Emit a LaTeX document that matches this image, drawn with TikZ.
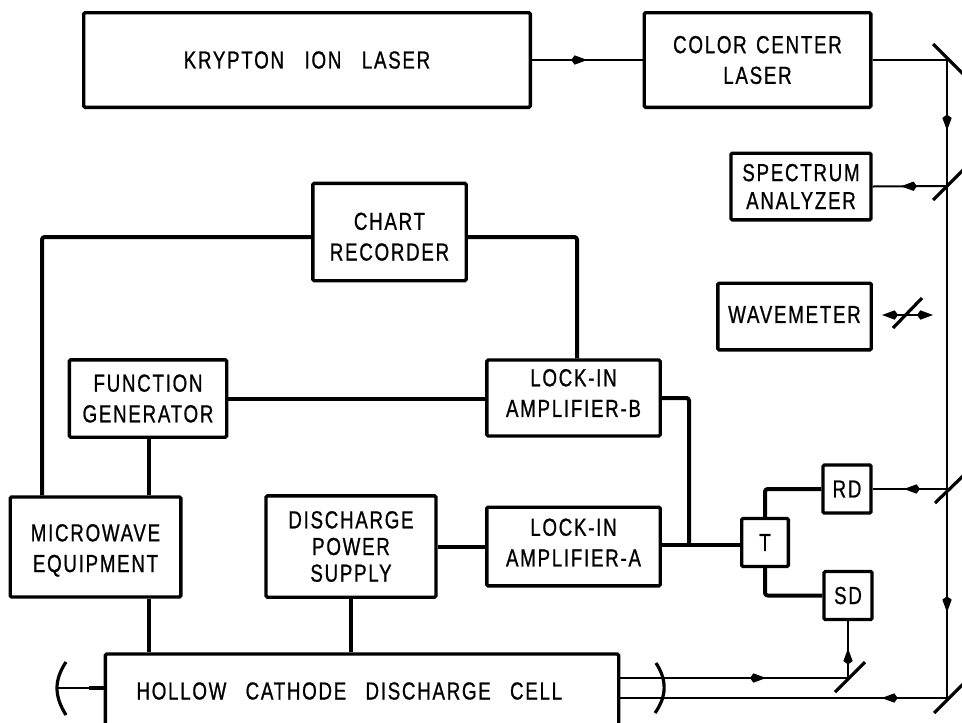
\documentclass[tikz,border=0pt]{standalone}
\usepackage{fontspec}
\setmainfont[LetterSpace=7,FakeStretch=0.76,FakeBold=0.8]{Liberation Sans}
\usetikzlibrary{arrows.meta}
\usetikzlibrary{decorations.markings}
\newcommand{\txtup}[1]{\rule[-#1]{0pt}{#1}}
\newcommand{\txtdown}[1]{\rule{0pt}{#1}}
\begin{document}
\begin{tikzpicture}[
    x=0.75pt, y=-0.75pt,
    box/.style={draw, line width=2.5pt, rounded corners=1pt, inner sep=0pt, align=center, font=\fontsize{18.5}{23}\selectfont},
    wire/.style={line width=3pt, line join=round, rounded corners=2pt},
    beam/.style={line width=1.5pt},
    beamr/.style={beam, postaction={decorate}, decoration={markings, mark=at position #1 with {\arrow{Kite[length=12pt,width=7pt,inset=2.5pt]}}}},
    mirror/.style={line width=2.4pt}
]
\useasboundingbox (0,0) rectangle (962,722);

% ── Lasers ────────────────────────────────────────────
\node[box, minimum width=335pt, minimum height=71pt] (krypton) at (307,60) {KRYPTON\hspace{0.55em} ION\hspace{0.55em} LASER};
\node[box, minimum width=170pt, minimum height=71pt] (color) at (757.5,60) {COLOR\hspace{0.1em} CENTER\\LASER};

% ── Diagnostics ───────────────────────────────────────
\node[box, minimum width=105pt, minimum height=50pt] (spectrum) at (801,186.5) {SPECTRUM\\[-2pt]ANALYZER};
\node[box, minimum width=115pt, minimum height=50pt] (wave) at (794.5,316.5) {WAVEMETER\txtup{3pt}};

% ── Electronics ───────────────────────────────────────
\node[box, minimum width=115pt, minimum height=73pt] (chart) at (389.5,232) {\txtdown{20pt}CHART\\RECORDER};
\node[box, minimum width=118pt, minimum height=58pt] (func) at (148,398.5) {FUNCTION\\GENERATOR};
\node[box, minimum width=130pt, minimum height=57pt] (lockb) at (573.5,398) {LOCK-IN\\AMPLIFIER-B\txtup{7.5pt}};
\node[box, minimum width=130pt, minimum height=59pt] (locka) at (573.5,546.5) {LOCK-IN\\AMPLIFIER-A\txtup{6pt}};
\node[box, minimum width=128pt, minimum height=75pt] (micro) at (95.5,547) {\txtdown{18pt}MICROWAVE\\EQUIPMENT};
\node[box, minimum width=127.5pt, minimum height=76pt] (power) at (351,546.5) {DISCHARGE\\[-3pt]POWER\\[-3pt]SUPPLY};
\node[box, minimum width=35pt, minimum height=36pt] (tee) at (765,542.5) {T};
\node[box, minimum width=36pt, minimum height=36pt] (rd) at (847,489) {RD};
\node[box, minimum width=36pt, minimum height=36pt] (sd) at (848,595.5) {SD};
\node[box, minimum width=385pt, minimum height=55.5pt] (cell) at (362,691) {HOLLOW\hspace{0.5em} CATHODE\hspace{0.5em} DISCHARGE\hspace{0.5em} CELL\hspace{19pt}};

% ── Mirrors ───────────────────────────────────────────
\coordinate (mtop) at (947,60);
\coordinate (mspec) at (947,186);
\coordinate (mrd) at (947,489);
\coordinate (mbot) at (947,698);
\coordinate (msd) at (848,678);
\coordinate (mleft) at (57,688);
\draw[mirror] (933,44) -- (964,75);
\draw[mirror] (933,200) -- (964,169);
\draw[mirror] (935,503) -- (964,475);
\draw[mirror] (934,713) -- (964,683);
\draw[mirror] (835,692) -- (865,662);
\draw[mirror] (893,328) -- (922,298);
\draw[mirror] (66,662) .. controls (54,680) and (54,696) .. (66,715);
\draw[mirror] (656,663) .. controls (667,680) and (667,696) .. (655,713);

% ── Optical path ──────────────────────────────────────
\coordinate (wavel) at (882,315);
\coordinate (waver) at (933,315);
\draw[beamr=0.5] (krypton.east) -- (color.west);
\draw[beam] (color.east) -- (mtop);
\draw[beamr=0.56] (mtop) -- (mspec);
\draw[beam] (mspec) -- (mrd);
\draw[beamr=0.59] (mrd) -- (mbot);
\draw[beamr=0.62] (mspec) -- (spectrum.east);
\draw[beamr=0.58] (mrd) -- (rd.east);
\draw[beamr=0.2] (mbot) -- (cell.east |- mbot);
\draw[beamr=0.64] (cell.east |- msd) -- (msd);
\draw[beamr=0.52] (msd) -- (sd.south);
\draw[{Kite[length=12pt,width=7pt,inset=2.5pt]}-{Kite[length=12pt,width=7pt,inset=2.5pt]}, beam] (wavel) -- (waver);

% ── Signal wires ──────────────────────────────────────
\coordinate (junc) at (689,545);
\coordinate (cornl) at (42,237);
\coordinate (cornr) at (577,237);
\coordinate (micx) at (149,0);
\draw[wire] (chart.west |- cornl) -- (cornl) -- (micro.north -| cornl);
\draw[wire] (chart.east |- cornr) -- (cornr) -- (lockb.north -| cornr);
\draw[wire] (func.east) -- (lockb.west |- func.east);
\draw[wire] (func.south -| micx) -- (micro.north -| micx);
\draw[wire] (lockb.east) -| (junc);
\draw[wire] (power.east) -- (locka.west);
\draw[wire] (locka.east |- junc) -- (tee.west |- junc);
\draw[wire] (tee.north) |- (rd.west);
\draw[wire] (tee.south) |- (sd.west);
\draw[wire] (micro.south -| micx) -- (cell.north -| micx);
\draw[wire] (power.south) -- (cell.north -| power.south);
\draw[beam, line width=2pt] (mleft) -- (cell.west |- mleft);
\draw[wire] (cell.west |- mleft) -- ++(-15,0);
\end{tikzpicture}
\end{document}
